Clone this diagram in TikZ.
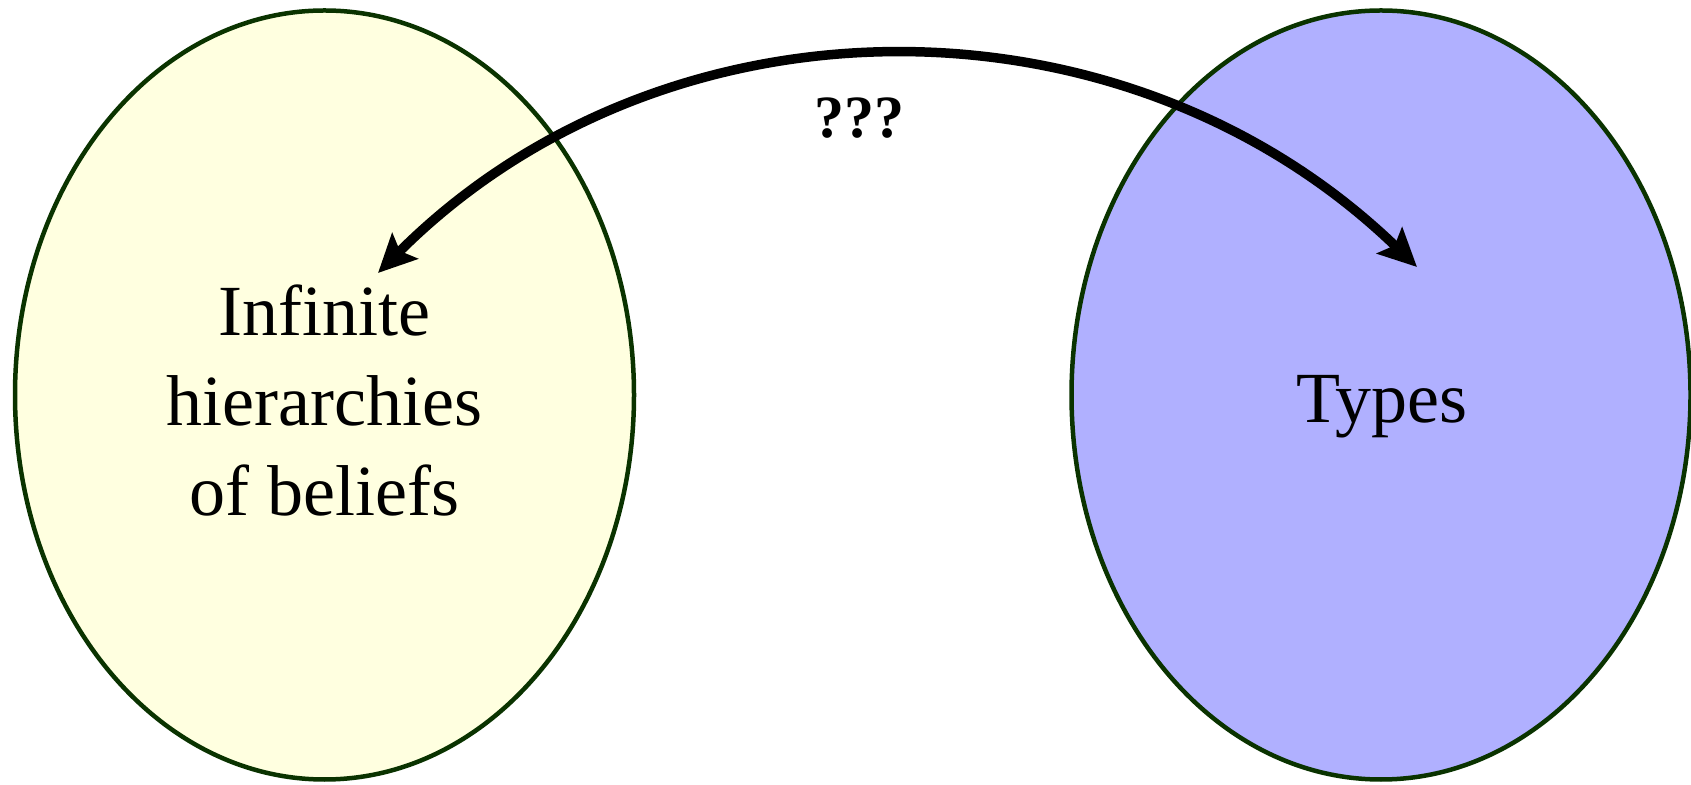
\documentclass[tikz,border=0pt]{standalone}
\usepackage{fontspec}
\setmainfont{Liberation Serif}
\usetikzlibrary{shapes.geometric,arrows.meta}
\definecolor{edgegreen}{RGB}{10,51,0}
\definecolor{paleyellow}{RGB}{255,255,224}
\definecolor{paleblue}{RGB}{176,176,255}
\tikzset{
  blob/.style={ellipse, draw=edgegreen, line width=4.5pt, minimum width=619pt, minimum height=769pt, inner sep=0pt},
  bigtext/.style={font=\fontsize{72}{90}\selectfont, align=center, inner sep=0pt},
  link/.style={line width=9.5pt, {Stealth[length=38pt,width=36pt,inset=7pt]}-{Stealth[length=38pt,width=36pt,inset=7pt]}}
}
\begin{document}
\begin{tikzpicture}[x=1pt,y=1pt]
\useasboundingbox (0,0) rectangle (1691,784);
\node[blob, fill=paleyellow] (beliefs) at (324.5,389) {};
\node[blob, fill=paleblue] (types) at (1381,389) {};
\node[bigtext] (beliefstext) at (324.5,383) {Infinite\\hierarchies\\of beliefs};
\node[bigtext, anchor=base] (typestext) at (1382,361) {Types};
\coordinate (lt) at (378,511);
\coordinate (rt) at (1417,517);
\draw[link] (lt) .. controls (665,798) and (1125,799) .. (rt);
\node[font=\fontsize{60}{72}\selectfont\bfseries, anchor=base, inner sep=0pt] (q) at (859,646) {???};
\end{tikzpicture}
\end{document}
